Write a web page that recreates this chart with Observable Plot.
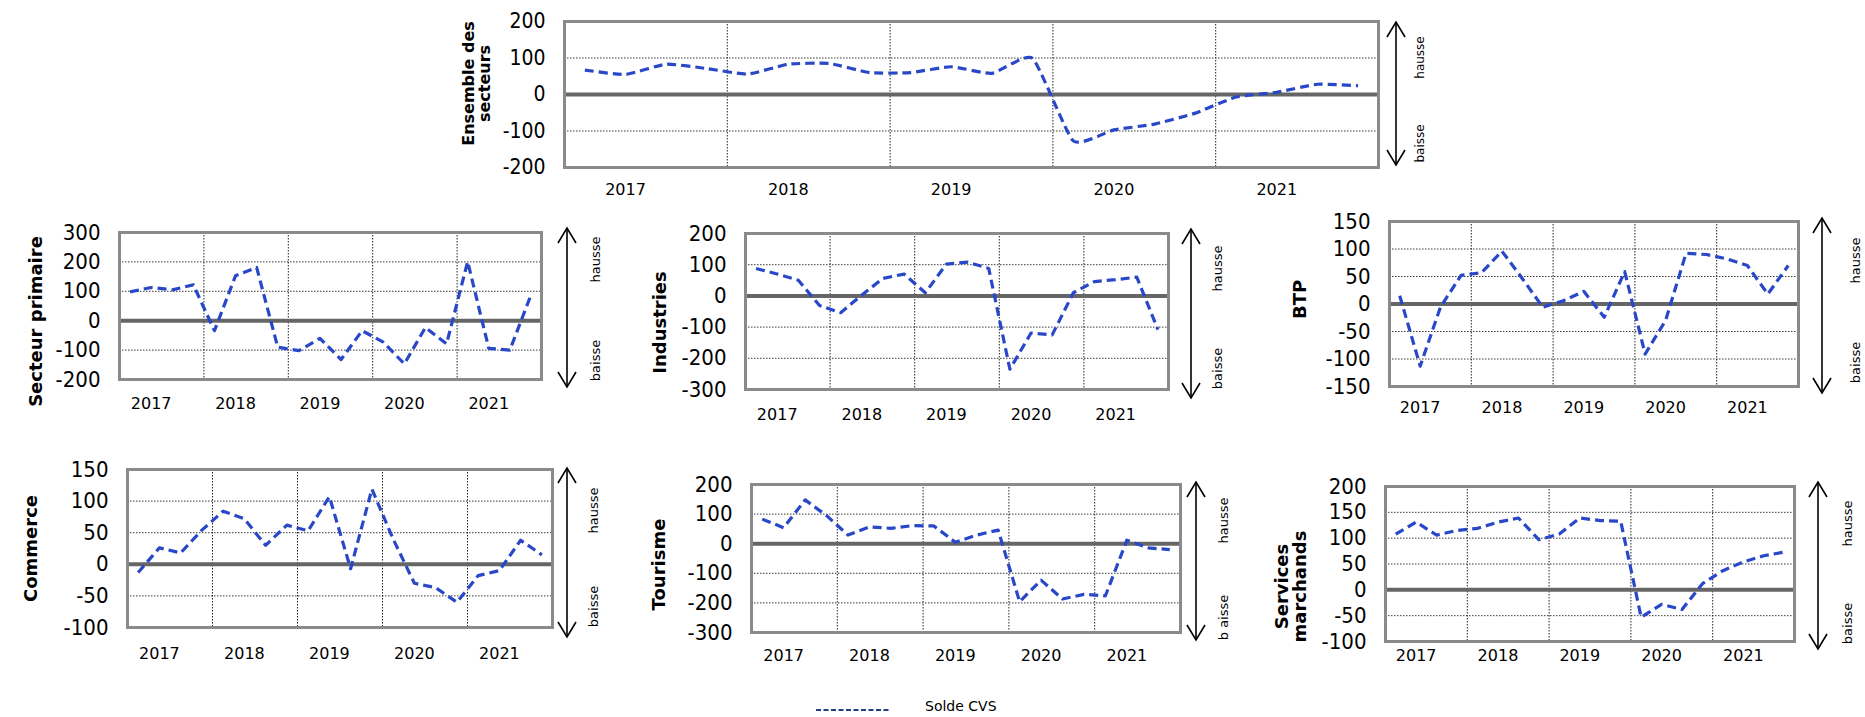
<!DOCTYPE html>
<html><head><meta charset="utf-8">
<script src="https://cdn.jsdelivr.net/npm/d3@7"></script>
<script src="https://cdn.jsdelivr.net/npm/@observablehq/plot@0.6"></script>
<style>
html,body{margin:0;padding:0;background:#fff;}
#root{position:relative;width:1865px;height:717px;overflow:hidden;background:#fff;}
.panel{position:absolute;}
.panel svg{max-width:none !important;overflow:visible;}
</style></head><body><div id="root"></div>
<script>
// ---- data ----
const quarters = ["2017T1","2017T2","2017T3","2017T4","2018T1","2018T2","2018T3","2018T4",
  "2019T1","2019T2","2019T3","2019T4","2020T1","2020T2","2020T3","2020T4",
  "2021T1","2021T2","2021T3","2021T4"];
const years = ["2017","2018","2019","2020","2021"];

const ensemble   = [67, 55, 83, 71, 56, 83, 85, 60, 60, 76, 58, 99, -127, -97, -81, -51, -7, 6, 28, 24];
const primaire   = [98, 113, 105, 122, -34, 153, 181, -90, -102, -60, -132, -34, -73, -147, -23, -79, 201, -94, -100, 87];
const industries = [88, 70, 50, -31, -54, 3, 56, 70, 10, 102, 108, 88, -235, -119, -125, 10, 46, 52, 60, -108];
const btp        = [15, -113, -5, 52, 57, 96, 46, -6, 6, 23, -24, 59, -91, -30, 92, 90, 82, 70, 18, 70];
const commerce   = [-13, 26, 18, 54, 84, 72, 30, 62, 53, 107, -7, 119, 40, -30, -37, -60, -18, -10, 38, 15];
const tourisme   = [83, 54, 148, 95, 29, 57, 52, 61, 60, 5, 29, 46, -196, -123, -187, -171, -176, 12, -14, -20];
const services   = [108, 131, 106, 115, 119, 131, 139, 97, 108, 139, 134, 133, -53, -28, -38, 12, 37, 54, 66, 73];

const ticksEnsemble   = [-200, -100, 0, 100, 200];
const ticksPrimaire   = [-200, -100, 0, 100, 200, 300];
const ticksIndustries = [-300, -200, -100, 0, 100, 200];
const ticksBtp        = [-150, -100, -50, 0, 50, 100, 150];
const ticksCommerce   = [-100, -50, 0, 50, 100, 150];
const ticksTourisme   = [-300, -200, -100, 0, 100, 200];
const ticksServices   = [-100, -50, 0, 50, 100, 150, 200];

const seriesName = "Solde CVS";

// ---- layout ----
const panels = [
  {title:"Ensemble des\nsecteurs", values:ensemble, ticks:ticksEnsemble, curve:"cardinal",
   frame:[564,1378,21,167], titleX:476, titleY:83, titleSize:16, tickFont:21,
   arrowX:1396, arrowY:[22,165], hausse:[1420,57], baisse:[1420,143], baisseText:"baisse", yearY:189, lblSize:12},
  {title:"Secteur primaire", values:primaire, ticks:ticksPrimaire, curve:"linear",
   frame:[119,541,232,379], titleX:36, titleY:321, titleSize:18, tickFont:22,
   arrowX:567, arrowY:[228,387], hausse:[595,259], baisse:[595,360], baisseText:"baisse", yearY:403, lblSize:13},
  {title:"Industries", values:industries, ticks:ticksIndustries, curve:"linear",
   frame:[745,1168,233,389], titleX:660, titleY:322, titleSize:18, tickFont:22,
   arrowX:1191, arrowY:[229,398], hausse:[1217,268], baisse:[1217,368], baisseText:"baisse", yearY:414, lblSize:13},
  {title:"BTP", values:btp, ticks:ticksBtp, curve:"linear",
   frame:[1389,1798,221,386], titleX:1300, titleY:299, titleSize:18, tickFont:22,
   arrowX:1822, arrowY:[218,393], hausse:[1855,260], baisse:[1855,362], baisseText:"baisse", yearY:407, lblSize:13},
  {title:"Commerce", values:commerce, ticks:ticksCommerce, curve:"linear",
   frame:[127,552,469,627], titleX:31, titleY:548, titleSize:18, tickFont:22,
   arrowX:567, arrowY:[468,637], hausse:[593,510], baisse:[593,606], baisseText:"baisse", yearY:653, lblSize:13},
  {title:"Tourisme", values:tourisme, ticks:ticksTourisme, curve:"linear",
   frame:[751,1180,484,632], titleX:659, titleY:564, titleSize:18, tickFont:22,
   arrowX:1196, arrowY:[482,640], hausse:[1223,520], baisse:[1223,617], baisseText:"b aisse", yearY:655, lblSize:13},
  {title:"Services\nmarchands", values:services, ticks:ticksServices, curve:"linear",
   frame:[1385,1794,486,641], titleX:1291, titleY:586, titleSize:18, tickFont:22,
   arrowX:1818, arrowY:[482,649], hausse:[1847,523], baisse:[1847,623], baisseText:"baisse", yearY:655, lblSize:13}
];

const tickFamily = "'Liberation Sans Narrow','Arial Narrow','DejaVu Sans Condensed',sans-serif";
const textFamily = "'DejaVu Sans',Verdana,sans-serif";
const lineColor = "#2848c8";
const root = document.getElementById("root");

panels.forEach(p => {
  const [fx0, fx1, fy0, fy1] = p.frame;
  const svgLeft = Math.max(0, p.titleX - 30);
  const svgRight = Math.min(1865, p.hausse[0] + 10);
  const svgTop = Math.min(fy0, p.arrowY[0]) - 12;
  const svgBottom = Math.max(p.yearY + 16, p.arrowY[1] + 4);
  const width = svgRight - svgLeft, height = svgBottom - svgTop;
  const midY = (fy0 + fy1) / 2;
  const ymin = p.ticks[0], ymax = p.ticks[p.ticks.length - 1];
  const data = p.values.map((v, i) => ({q: quarters[i], x: i + 0.5, v}));
  const yearX = years.map((y, i) => quarters.indexOf(y + "T2") + 0.5);
  const yearBounds = years.slice(1).map(y => quarters.indexOf(y + "T1"));

  const plot = Plot.plot({
    width, height,
    marginLeft: fx0 - svgLeft, marginRight: svgRight - fx1,
    marginTop: fy0 - svgTop, marginBottom: svgBottom - fy1,
    style: {background: "none", overflow: "visible"},
    x: {domain: [0, quarters.length], axis: null},
    y: {domain: [ymin, ymax], axis: null},
    marks: [
      Plot.ruleY(p.ticks.filter(t => t !== 0 && t !== ymin && t !== ymax),
        {stroke: "#3a3a3a", strokeWidth: 1, strokeDasharray: "1.5,1.5"}),
      Plot.ruleX(yearBounds, {stroke: "#222", strokeWidth: 1, strokeDasharray: "1.5,1.5"}),
      Plot.ruleY([0], {stroke: "#666", strokeWidth: 4}),
      Plot.frame({stroke: "#8a8a8a", strokeWidth: 3}),
      Plot.line(data, {x: "x", y: "v", curve: p.curve, tension: 0.5, stroke: lineColor, strokeWidth: 3.2,
        strokeDasharray: "9,5", strokeLinecap: "butt"}),
      Plot.text(p.ticks, {y: d => d, text: d => String(d), frameAnchor: "left", dx: -19,
        textAnchor: "end", fontSize: p.tickFont, fontFamily: tickFamily, fill: "#000"}),
      Plot.text(years, {x: (d, i) => yearX[i], text: d => d, frameAnchor: "bottom",
        lineAnchor: "middle", textAnchor: "middle",
        dy: p.yearY - fy1, fontSize: 16, fontFamily: textFamily, fill: "#000"}),
      Plot.text([p.title], {frameAnchor: "left", textAnchor: "middle", lineAnchor: "middle",
        dx: p.titleX - fx0, dy: p.titleY - midY,
        rotate: -90, fontSize: p.titleSize, fontWeight: "bold", fontFamily: textFamily,
        lineHeight: 1.0, fill: "#000"}),
      Plot.text(["hausse"], {frameAnchor: "right", textAnchor: "middle", lineAnchor: "middle",
        dx: p.hausse[0] - fx1, dy: p.hausse[1] - midY,
        rotate: -90, fontSize: p.lblSize, fontFamily: textFamily, fill: "#000"}),
      Plot.text([p.baisseText], {frameAnchor: "right", textAnchor: "middle", lineAnchor: "middle",
        dx: p.baisse[0] - fx1, dy: p.baisse[1] - midY,
        rotate: -90, fontSize: p.lblSize, fontFamily: textFamily, fill: "#000"})
    ]
  });

  // decorative double arrow
  const svg = d3.select(plot);
  const ax = p.arrowX - svgLeft, a0 = p.arrowY[0] - svgTop, a1 = p.arrowY[1] - svgTop;
  const g = svg.append("g").attr("stroke", "#000").attr("stroke-width", 1.6).attr("fill", "none");
  g.append("line").attr("x1", ax).attr("x2", ax).attr("y1", a0).attr("y2", a1);
  g.append("path").attr("d", `M${ax - 9},${a0 + 15}L${ax},${a0}L${ax + 9},${a0 + 15}`);
  g.append("path").attr("d", `M${ax - 9},${a1 - 15}L${ax},${a1}L${ax + 9},${a1 - 15}`);

  const div = document.createElement("div");
  div.className = "panel";
  div.style.left = svgLeft + "px";
  div.style.top = svgTop + "px";
  div.appendChild(plot);
  root.appendChild(div);
});

// legend
const leg = d3.select(root).append("svg")
  .attr("width", 300).attr("height", 27)
  .style("position", "absolute").style("left", "790px").style("top", "690px")
  .style("overflow", "visible");
leg.append("line").attr("x1", 26).attr("x2", 100).attr("y1", 20).attr("y2", 20)
  .attr("stroke", "#24427e").attr("stroke-width", 2).attr("stroke-dasharray", "5,2.5");
leg.append("text").attr("x", 135).attr("y", 21).text(seriesName)
  .attr("font-family", textFamily).attr("font-size", 14).attr("fill", "#000");
</script>
</body></html>
